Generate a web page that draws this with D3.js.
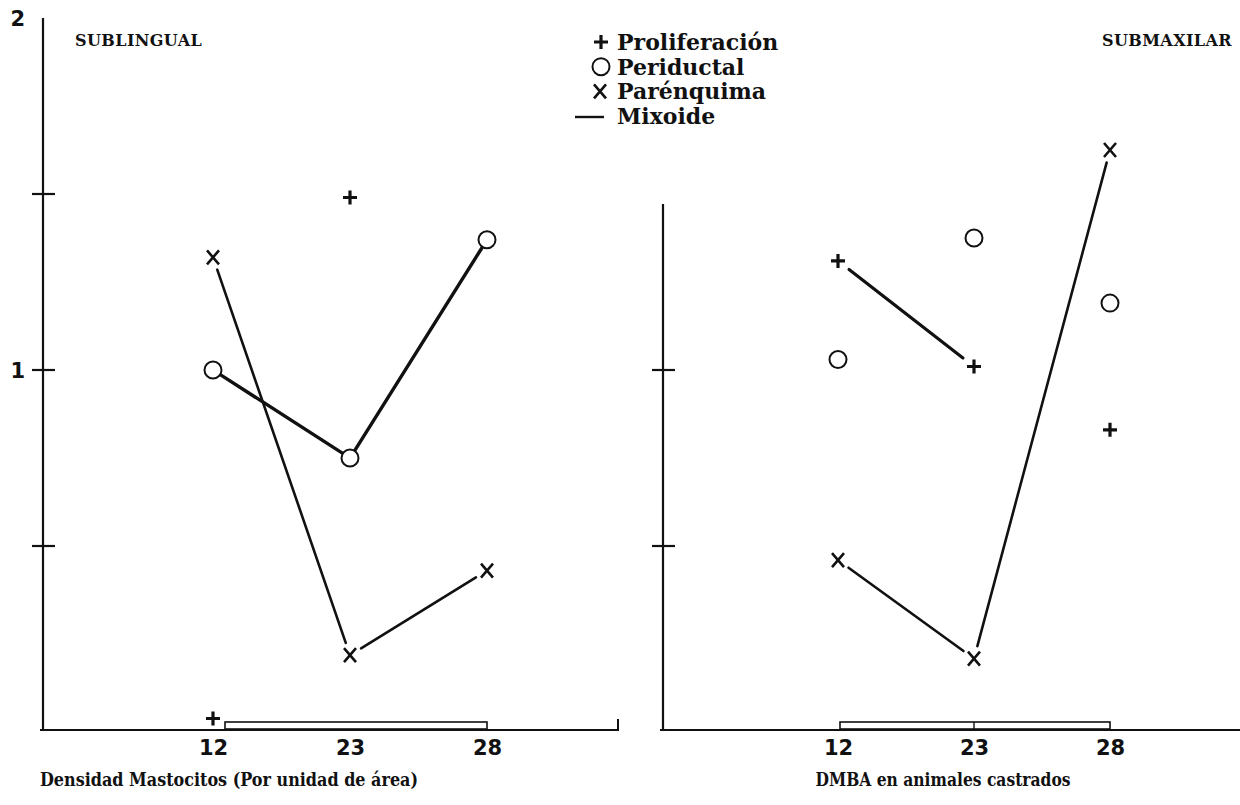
<!DOCTYPE html>
<html>
<head>
<meta charset="utf-8">
<script src="https://cdn.jsdelivr.net/npm/d3@7"></script>
<style>
  body { margin: 0; background: #fff; }
  svg { display: block; }
  text { fill: #111; }
</style>
</head>
<body>
<div id="chart"></div>
<script>
// categories on the x axis (same for both panels)
const categories = ["12", "23", "28"];
const yTicks = [0.5, 1, 1.5];
const yTickLabels = [1, 2];

// SUBLINGUAL
const subProlif = [0.01, 1.49, null];
const subPeri = [1.0, 0.75, 1.37];
const subParen = [1.32, 0.19, 0.43];
const subMixoide = [0.0, 0.0, 0.0];
const subLinks = { prolif: [], peri: [[0, 1], [1, 2]], paren: [[0, 1], [1, 2]] };

// SUBMAXILAR
const maxProlif = [1.31, 1.01, 0.83];
const maxPeri = [1.03, 1.375, 1.19];
const maxParen = [0.46, 0.18, 1.625];
const maxMixoide = [0.0, 0.0, 0.0];
const maxLinks = { prolif: [[0, 1]], peri: [], paren: [[0, 1], [1, 2]] };

const legendItems = ["Proliferación", "Periductal", "Parénquima", "Mixoide"];

const W = 1240, H = 805;
const serif = "'DejaVu Serif', 'Liberation Serif', serif";
const sans = "'DejaVu Sans', 'Liberation Sans', sans-serif";

const svg = d3.select("#chart").append("svg")
    .attr("width", W)
    .attr("height", H);

const y = d3.scaleLinear().domain([0, 2]).range([722, 18]);
const baseY = 730;

// draw the marker shapes
function plus(g, cx, cy) {
    g.append("path")
        .attr("d", `M${cx - 7},${cy}H${cx + 7}M${cx},${cy - 7}V${cy + 7}`)
        .attr("stroke", "#111").attr("stroke-width", 3.2).attr("fill", "none");
}
function circle(g, cx, cy) {
    g.append("circle").attr("cx", cx).attr("cy", cy).attr("r", 8.5)
        .attr("fill", "#fff").attr("stroke", "#111").attr("stroke-width", 2);
}
function cross(g, cx, cy) {
    g.append("path")
        .attr("d", `M${cx - 6},${cy - 7}L${cx + 6},${cy + 7}M${cx + 6},${cy - 7}L${cx - 6},${cy + 7}`)
        .attr("stroke", "#111").attr("stroke-width", 2.6).attr("fill", "none");
}

function links(g, x, vals, pairs, gap, width) {
    pairs.forEach(([a, b]) => {
        const x1 = x(categories[a]), y1 = y(vals[a]);
        const x2 = x(categories[b]), y2 = y(vals[b]);
        const len = Math.hypot(x2 - x1, y2 - y1);
        const ux = (x2 - x1) / len, uy = (y2 - y1) / len;
        g.append("line")
            .attr("x1", x1 + ux * gap).attr("y1", y1 + uy * gap)
            .attr("x2", x2 - ux * gap).attr("y2", y2 - uy * gap)
            .attr("stroke", "#111").attr("stroke-width", width)
            .attr("stroke-linecap", "round");
    });
}

function panel(opts) {
    const g = svg.append("g");
    const x = d3.scalePoint().domain(categories).range(opts.xRange);

    // y axis
    g.append("line")
        .attr("x1", opts.axisX).attr("x2", opts.axisX)
        .attr("y1", opts.axisTop).attr("y2", baseY + 1)
        .attr("stroke", "#111").attr("stroke-width", 2.2);
    yTicks.filter(v => y(v) > opts.axisTop).forEach(v => {
        g.append("line")
            .attr("x1", opts.axisX - 11).attr("x2", opts.axisX + 12)
            .attr("y1", y(v)).attr("y2", y(v))
            .attr("stroke", "#111").attr("stroke-width", 2.2);
    });
    if (opts.labels) {
        yTickLabels.forEach(v => {
            g.append("text")
                .attr("x", opts.axisX - 18).attr("y", y(v) + 8)
                .attr("text-anchor", "end")
                .style("font-family", sans).style("font-weight", "bold")
                .style("font-size", "21px")
                .text(v);
        });
    }

    // x axis baseline
    g.append("line")
        .attr("x1", opts.axisX - 3).attr("x2", opts.baseEnd)
        .attr("y1", baseY).attr("y2", baseY)
        .attr("stroke", "#111").attr("stroke-width", 2.2);
    if (opts.endTick) {
        g.append("line")
            .attr("x1", opts.baseEnd - 1).attr("x2", opts.baseEnd - 1)
            .attr("y1", baseY).attr("y2", baseY - 11)
            .attr("stroke", "#111").attr("stroke-width", 2);
    }

    const xAxis = g.append("g")
        .attr("transform", `translate(0,${baseY})`)
        .call(d3.axisBottom(x).tickSize(0).tickPadding(10));
    xAxis.select(".domain").remove();
    xAxis.selectAll("text")
        .style("font-family", sans).style("font-weight", "bold")
        .style("font-size", "21px").attr("fill", "#111");

    // Mixoide: double line just above the baseline
    const mx1 = x(categories[0]) + opts.mixStart, mx2 = x(categories[2]);
    g.append("rect")
        .attr("x", mx1).attr("y", y(opts.mix[0]))
        .attr("width", mx2 - mx1).attr("height", baseY - 1 - y(opts.mix[0]))
        .attr("fill", "#fff").attr("stroke", "#111").attr("stroke-width", 1.6);
    if (opts.mixMid) {
        g.append("line")
            .attr("x1", x(categories[1])).attr("x2", x(categories[1]))
            .attr("y1", y(opts.mix[1])).attr("y2", baseY)
            .attr("stroke", "#111").attr("stroke-width", 1.4);
    }

    // series lines
    links(g, x, opts.peri, opts.links.peri, 10, 3.4);
    links(g, x, opts.paren, opts.links.paren, 13, 2.6);
    links(g, x, opts.prolif, opts.links.prolif, 14, 3.2);

    // markers
    opts.prolif.forEach((v, i) => { if (v != null) plus(g, x(categories[i]), y(v)); });
    opts.peri.forEach((v, i) => { if (v != null) circle(g, x(categories[i]), y(v)); });
    opts.paren.forEach((v, i) => { if (v != null) cross(g, x(categories[i]), y(v)); });

    // titles
    g.append("text")
        .attr("x", opts.titleX).attr("y", 46)
        .attr("text-anchor", opts.titleAnchor)
        .style("font-family", serif).style("font-weight", "bold")
        .style("font-size", "16px").style("letter-spacing", "0.4px")
        .text(opts.title);
    g.append("text")
        .attr("x", opts.xTitleX).attr("y", 786)
        .attr("text-anchor", "middle")
        .attr("textLength", opts.xTitleLen).attr("lengthAdjust", "spacingAndGlyphs")
        .style("font-family", serif).style("font-weight", "bold")
        .style("font-size", "18px")
        .text(opts.xTitle);
}

panel({
    xRange: [213, 487], axisX: 43, axisTop: 18, baseEnd: 619, endTick: true,
    labels: true, prolif: subProlif, peri: subPeri, paren: subParen,
    mix: subMixoide, mixStart: 12, mixMid: false, links: subLinks,
    title: "SUBLINGUAL", titleX: 75, titleAnchor: "start",
    xTitle: "Densidad Mastocitos (Por unidad de área)", xTitleX: 229, xTitleLen: 378
});
panel({
    xRange: [838, 1110], axisX: 663, axisTop: 204, baseEnd: 1240, endTick: false,
    labels: false, prolif: maxProlif, peri: maxPeri, paren: maxParen,
    mix: maxMixoide, mixStart: 2, mixMid: true, links: maxLinks,
    title: "SUBMAXILAR", titleX: 1232, titleAnchor: "end",
    xTitle: "DMBA en animales castrados", xTitleX: 943, xTitleLen: 255
});

// legend
const legend = svg.append("g");
const legendY = d3.scalePoint().domain(legendItems).range([42, 116]);
legendItems.forEach((name, i) => {
    const ly = legendY(name);
    if (i === 0) plus(legend, 601, ly);
    if (i === 1) circle(legend, 601, ly);
    if (i === 2) cross(legend, 600, ly);
    if (i === 3) legend.append("line").attr("x1", 575).attr("x2", 604)
        .attr("y1", ly + 1).attr("y2", ly + 1)
        .attr("stroke", "#111").attr("stroke-width", 2.4);
    legend.append("text")
        .attr("x", 617).attr("y", ly + 8)
        .style("font-family", serif).style("font-weight", "bold")
        .style("font-size", "22px")
        .text(name);
});
</script>
</body>
</html>
